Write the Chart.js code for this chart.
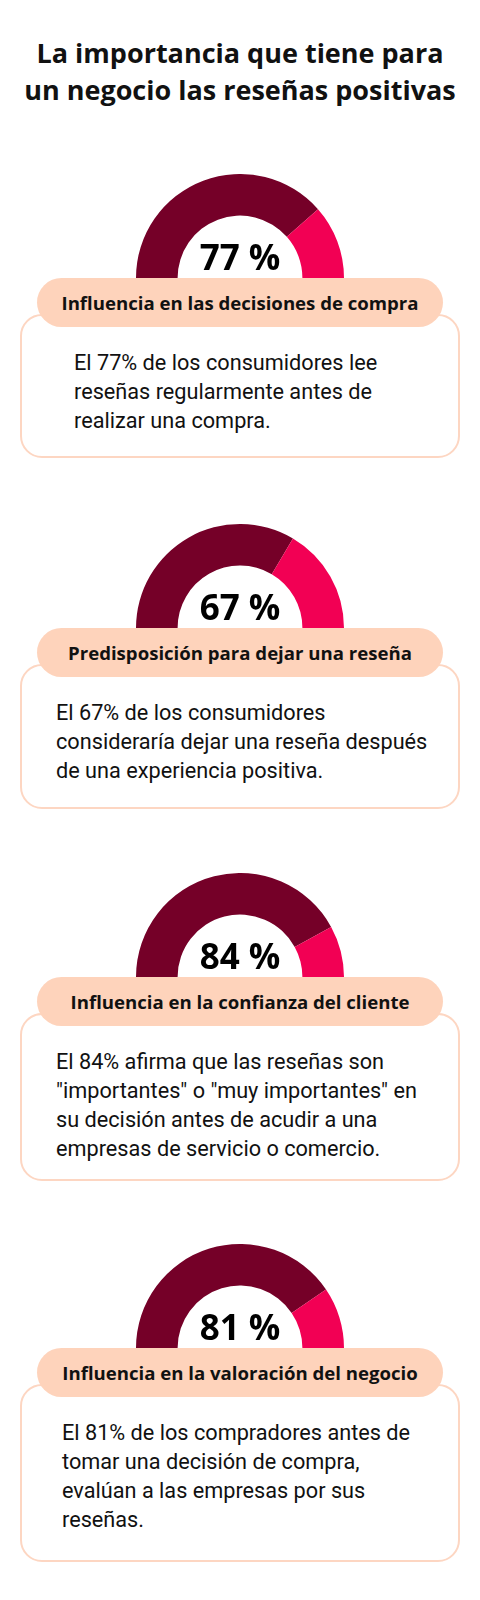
<!DOCTYPE html>
<html><head><meta charset="utf-8">
<script src="https://cdn.jsdelivr.net/npm/chart.js@4"></script>
<style>
body{margin:0;width:480px;height:1600px;background:#fff;position:relative;font-family:Roboto,sans-serif;}
h1{position:absolute;top:34px;left:0;width:480px;margin:0;text-align:center;font:700 27px/37px "Open Sans";color:#111;}
.g{position:absolute;left:136px;width:208px;height:104px;}
.num{position:absolute;left:0;width:480px;text-align:center;font:700 35px/48px "Open Sans";color:#000;}
.box{position:absolute;left:20px;width:440px;border:2px solid #fdd6c2;border-radius:22px;box-sizing:border-box;}
.box div{position:absolute;text-align:left;font:21.7px/29px Roboto;color:#111;white-space:nowrap;}
.pill{position:absolute;left:37px;width:406px;height:49px;border-radius:25px;background:#fed3bb;text-align:center;font:700 18.6px/49px "Open Sans";color:#111;}
</style></head><body>
<h1>La importancia que tiene para<br>un negocio las reseñas positivas</h1>
<div id="root"></div>
<script>
const values=[77,67,84,81];
const titles=["Influencia en las decisiones de compra","Predisposición para dejar una reseña","Influencia en la confianza del cliente","Influencia en la valoración del negocio"];
const texts=[
"El 77% de los consumidores lee<br>reseñas regularmente antes de<br>realizar una compra.",
"El 67% de los consumidores<br>consideraría dejar una reseña después<br>de una experiencia positiva.",
"El 84% afirma que las reseñas son<br>\"importantes\" o \"muy importantes\" en<br>su decisión antes de acudir a una<br>empresas de servicio o comercio.",
"El 81% de los compradores antes de<br>tomar una decisión de compra,<br>evalúan a las empresas por sus<br>reseñas."];
const pillTop=[278,628,977,1348];
const boxBottom=[458,809,1181,1562];
const textLeft=[52,34,34,40];
const root=document.getElementById('root');
values.forEach((v,i)=>{
  const pt=pillTop[i];
  const c=document.createElement('canvas');c.className='g';c.width=208;c.height=104;c.style.top=(pt-104)+'px';
  root.appendChild(c);
  const bt=pt+36;
  const b=document.createElement('div');b.className='box';b.style.top=bt+'px';b.style.height=(boxBottom[i]-bt)+'px';
  b.innerHTML='<div style="left:'+textLeft[i]+'px;top:'+(pt+84-14.5-bt-2)+'px">'+texts[i]+'</div>';root.appendChild(b);
  const p=document.createElement('div');p.className='pill';p.style.top=pt+'px';p.textContent=titles[i];root.appendChild(p);
  const n=document.createElement('div');n.className='num';n.style.top=(pt-45)+'px';n.textContent=v+' %';root.appendChild(n);
  new Chart(c,{type:'doughnut',data:{datasets:[{data:[v,100-v],backgroundColor:['#750028','#f20054'],borderWidth:0}]},
    options:{responsive:false,animation:false,rotation:-90,circumference:180,cutout:'60%',layout:{padding:0},plugins:{legend:{display:false},tooltip:{enabled:false}}}});
});
</script></body></html>
